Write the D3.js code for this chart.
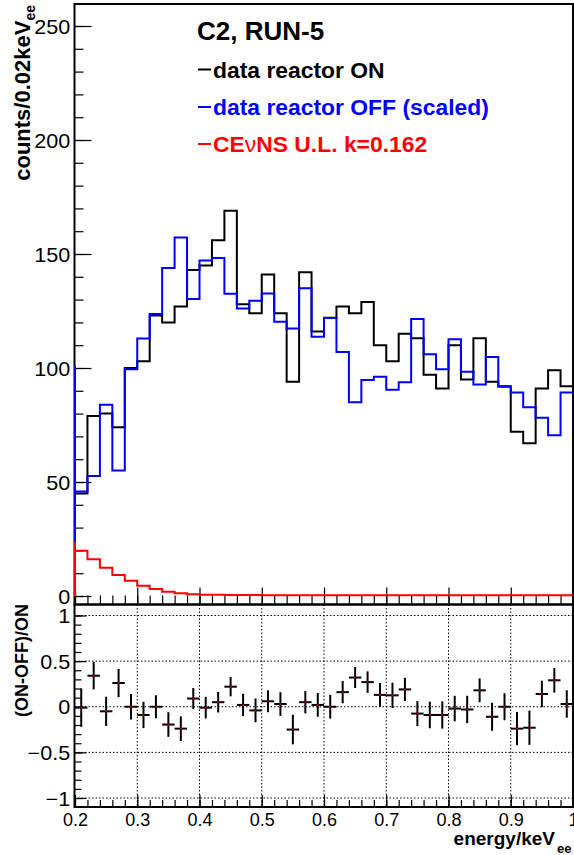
<!DOCTYPE html>
<html>
<head>
<meta charset="utf-8">
<script src="https://cdn.jsdelivr.net/npm/d3@7"></script>
<style>
  body { margin: 0; background: #fff; }
  svg { display: block; }
  text { font-family: "Liberation Sans", Arial, Helvetica, sans-serif; }
</style>
</head>
<body>
<div id="chart"></div>
<script>
// ---- data ----
var binLow = [0.20, 0.22, 0.24, 0.26, 0.28, 0.30, 0.32, 0.34, 0.36, 0.38,
              0.40, 0.42, 0.44, 0.46, 0.48, 0.50, 0.52, 0.54, 0.56, 0.58,
              0.60, 0.62, 0.64, 0.66, 0.68, 0.70, 0.72, 0.74, 0.76, 0.78,
              0.80, 0.82, 0.84, 0.86, 0.88, 0.90, 0.92, 0.94, 0.96, 0.98];
var binWidth = 0.02;

var onCounts = [45, 79, 80, 74, 100, 103, 123, 120, 127, 143,
                145, 156, 169, 128, 124, 141, 124, 94, 142, 116,
                122, 127, 124, 129, 110, 103, 115, 113, 97, 91,
                110, 95, 113, 94, 92, 72, 67, 91, 99, 92];

var offScaled = [45.8, 52.6, 83.9, 55.0, 99.5, 112.9, 123.7, 143.9, 157.2, 130.3,
                 147.2, 148.2, 132.6, 126.1, 129.5, 132.7, 120.3, 117.3, 135.0, 113.7,
                 121.9, 107.0, 85.0, 94.7, 96.2, 90.5, 93.8, 121.5, 106.0, 99.4,
                 112.6, 98.4, 92.8, 104.8, 91.8, 89.3, 82.8, 78.2, 70.5, 89.3];

var cevnsUL = [19.9, 16.1, 12.4, 9.2, 6.7, 4.5, 3.1, 1.9, 1.2, 0.8,
               0.6, 0.5, 0.4, 0.4, 0.4, 0.3, 0.3, 0.3, 0.3, 0.3,
               0.3, 0.3, 0.3, 0.3, 0.3, 0.3, 0.3, 0.3, 0.3, 0.3,
               0.3, 0.3, 0.3, 0.3, 0.3, 0.3, 0.3, 0.3, 0.3, 0.3];

// content of the bin just below 0.2 (only its edge shows)
var edgeOn = 45, edgeOff = 101, edgeCevns = 23.8;

var ratio = [-0.01, 0.34, -0.05, 0.26, 0.00, -0.09, 0.00, -0.195, -0.24, 0.09,
             -0.01, 0.05, 0.22, 0.02, -0.04, 0.06, 0.03, -0.25, 0.05, 0.02,
             0.00, 0.16, 0.32, 0.27, 0.13, 0.125, 0.19, -0.075, -0.09, -0.09,
             -0.02, -0.03, 0.18, -0.11, 0.00, -0.24, -0.23, 0.14, 0.29, 0.03];

var ratioErr = [0.21, 0.15, 0.16, 0.155, 0.14, 0.144, 0.126, 0.135, 0.135, 0.115,
                0.118, 0.113, 0.106, 0.122, 0.13, 0.12, 0.13, 0.162, 0.122, 0.13,
                0.13, 0.122, 0.115, 0.118, 0.13, 0.138, 0.127, 0.137, 0.146, 0.15,
                0.14, 0.15, 0.13, 0.153, 0.148, 0.182, 0.188, 0.146, 0.135, 0.15];

var xMajor = [0.2, 0.3, 0.4, 0.5, 0.6, 0.7, 0.8, 0.9, 1.0];
var xGrid = [0.3, 0.4, 0.5, 0.6, 0.7, 0.8, 0.9];
var yTopMajor = [0, 50, 100, 150, 200, 250];
var yBotMajor = [-1, -0.5, 0, 0.5, 1];

// ---- layout ----
var svgWidth = 574, svgHeight = 855;
var frameL = 74.5, frameR = 573;
var topY0 = 4, midY = 604.5, botY1 = 807;

var svg = d3.select("#chart").append("svg")
  .attr("width", svgWidth)
  .attr("height", svgHeight);

var x = d3.scaleLinear().domain([0.2, 1.0]).range([75, 573]);
var yTop = d3.scaleLinear().domain([0, 250]).range([596, 26]);
var yBot = d3.scaleLinear().domain([-1, 1]).range([798, 615.5]);

var minorX = d3.range(0, 41).map(function(i) { return 0.2 + i * 0.02; });
var minorYTop = d3.range(0, 26).map(function(i) { return i * 10; });
var minorYBot = d3.range(-10, 11).map(function(i) { return i / 10; });

function cleanAxis(g) {
  g.select(".domain").remove();
  g.selectAll("line").attr("stroke", "#000").attr("stroke-width", 1.2);
}

// ================= top panel =================
var topPanel = svg.append("g");

// left axis
topPanel.append("g")
  .attr("transform", "translate(" + frameL + ",0)")
  .call(d3.axisLeft(yTop).tickValues(minorYTop).tickFormat("").tickSize(-9))
  .call(cleanAxis);
var yTopAxis = topPanel.append("g")
  .attr("transform", "translate(" + frameL + ",0)")
  .call(d3.axisLeft(yTop).tickValues(yTopMajor).tickFormat(d3.format("d")).tickSize(-17).tickPadding(4))
  .call(cleanAxis);
yTopAxis.selectAll("text")
  .attr("font-size", 20).attr("fill", "#000").attr("dy", "0.36em")
  .attr("transform", "scale(1.08,1)");

// bottom ticks of top panel
topPanel.append("g")
  .attr("transform", "translate(0," + midY + ")")
  .call(d3.axisBottom(x).tickValues(minorX).tickFormat("").tickSize(-9))
  .call(cleanAxis);
topPanel.append("g")
  .attr("transform", "translate(0," + midY + ")")
  .call(d3.axisBottom(x).tickValues(xMajor).tickFormat("").tickSize(-17))
  .call(cleanAxis);

topPanel.append("rect")
  .attr("x", frameL).attr("y", topY0)
  .attr("width", frameR - frameL).attr("height", midY - topY0)
  .attr("fill", "none").attr("stroke", "#000").attr("stroke-width", 2);

// histograms (drawn over the frame, as in the original)
function histPath(values, edge) {
  var pts = [[0.2, 0], [0.2, edge]];
  values.forEach(function(v, i) {
    pts.push([binLow[i], v]);
    pts.push([binLow[i] + binWidth, v]);
  });
  var line = d3.line()
    .x(function(d) { return x(d[0]); })
    .y(function(d) { return yTop(d[1]); });
  return line(pts);
}

topPanel.append("path")
  .attr("d", histPath(onCounts, edgeOn))
  .attr("fill", "none").attr("stroke", "#000").attr("stroke-width", 2);
topPanel.append("path")
  .attr("d", histPath(offScaled, edgeOff))
  .attr("fill", "none").attr("stroke", "#0000ff").attr("stroke-width", 2);
topPanel.append("path")
  .attr("d", histPath(cevnsUL, edgeCevns))
  .attr("fill", "none").attr("stroke", "#ff0000").attr("stroke-width", 2);

// y title
topPanel.append("text")
  .attr("transform", "translate(30,5) rotate(-90)")
  .attr("text-anchor", "end")
  .attr("font-size", 22).attr("font-weight", "bold")
  .text("counts/0.02keV")
  .append("tspan").attr("font-size", 14).attr("dy", 5).text("ee");

// legend
var legend = topPanel.append("g");
legend.append("text")
  .attr("x", 197).attr("y", 40)
  .attr("font-size", 26).attr("font-weight", "bold")
  .text("C2, RUN-5");

var legendItems = [
  { label: "data reactor ON", color: "#000", y: 77.5 },
  { label: "data reactor OFF (scaled)", color: "#0000ff", y: 115 },
  { label: null, color: "#ff0000", y: 152 }
];
legendItems.forEach(function(it) {
  legend.append("line")
    .attr("x1", 198).attr("x2", 211)
    .attr("y1", it.y - 8).attr("y2", it.y - 8)
    .attr("stroke", it.color).attr("stroke-width", 2);
  var t = legend.append("text")
    .attr("transform", "translate(213," + it.y + ") scale(1.04,1)")
    .attr("font-size", 22).attr("font-weight", "bold")
    .attr("fill", it.color);
  if (it.label) {
    t.text(it.label);
  } else {
    t.append("tspan").text("CE");
    t.append("tspan").attr("font-weight", "normal").text("ν");
    t.append("tspan").text("NS U.L. k=0.162");
  }
});

// ================= bottom panel =================
var botPanel = svg.append("g");

// dotted grid
botPanel.selectAll(".vgrid").data(xGrid).enter().append("line")
  .attr("x1", function(d) { return x(d); }).attr("x2", function(d) { return x(d); })
  .attr("y1", midY).attr("y2", botY1)
  .attr("stroke", "#000").attr("stroke-width", 1).attr("stroke-dasharray", "1.5,2");
botPanel.selectAll(".hgrid").data(yBotMajor).enter().append("line")
  .attr("x1", frameL).attr("x2", frameR)
  .attr("y1", function(d) { return yBot(d); }).attr("y2", function(d) { return yBot(d); })
  .attr("stroke", "#000").attr("stroke-width", 1).attr("stroke-dasharray", "1.5,2");

// axes
botPanel.append("g")
  .attr("transform", "translate(" + frameL + ",0)")
  .call(d3.axisLeft(yBot).tickValues(minorYBot).tickFormat("").tickSize(-7))
  .call(cleanAxis);
var yBotAxis = botPanel.append("g")
  .attr("transform", "translate(" + frameL + ",0)")
  .call(d3.axisLeft(yBot).tickValues(yBotMajor).tickSize(-12).tickPadding(4)
    .tickFormat(function(d) { return d3.format("")(d); }))
  .call(cleanAxis);
yBotAxis.selectAll("text")
  .attr("font-size", 20).attr("fill", "#000").attr("dy", "0.36em")
  .attr("transform", "scale(1.08,1)");

botPanel.append("g")
  .attr("transform", "translate(0," + botY1 + ")")
  .call(d3.axisBottom(x).tickValues(minorX).tickFormat("").tickSize(-7))
  .call(cleanAxis);
var xBotAxis = botPanel.append("g")
  .attr("transform", "translate(0," + botY1 + ")")
  .call(d3.axisBottom(x).tickValues(xMajor).tickSize(-12).tickPadding(6)
    .tickFormat(function(d) { return d === 1 ? "1" : d.toFixed(1); }))
  .call(cleanAxis);
xBotAxis.selectAll("text").attr("font-size", 18).attr("fill", "#000");

// ratio points with error bars
var pts = botPanel.selectAll(".pt").data(ratio).enter().append("g");
pts.append("line")
  .attr("x1", function(d, i) { return x(binLow[i] + binWidth / 2); })
  .attr("x2", function(d, i) { return x(binLow[i] + binWidth / 2); })
  .attr("y1", function(d, i) { return yBot(d - ratioErr[i]); })
  .attr("y2", function(d, i) { return yBot(d + ratioErr[i]); })
  .attr("stroke", "#000").attr("stroke-width", 2);
pts.append("line")
  .attr("x1", function(d, i) { return x(binLow[i]); })
  .attr("x2", function(d, i) { return x(binLow[i] + binWidth); })
  .attr("y1", function(d) { return yBot(d); })
  .attr("y2", function(d) { return yBot(d); })
  .attr("stroke", "#000").attr("stroke-width", 2);
pts.append("circle")
  .attr("cx", function(d, i) { return x(binLow[i] + binWidth / 2); })
  .attr("cy", function(d) { return yBot(d); })
  .attr("r", 1).attr("fill", "#cc0000");

botPanel.append("rect")
  .attr("x", frameL).attr("y", midY)
  .attr("width", frameR - frameL).attr("height", botY1 - midY)
  .attr("fill", "none").attr("stroke", "#000").attr("stroke-width", 2);

// titles
botPanel.append("text")
  .attr("transform", "translate(28,604) rotate(-90)")
  .attr("text-anchor", "end")
  .attr("font-size", 18).attr("font-weight", "bold")
  .text("(ON-OFF)/ON");

botPanel.append("text")
  .attr("x", 555).attr("y", 845)
  .attr("text-anchor", "end")
  .attr("font-size", 19).attr("font-weight", "bold")
  .text("energy/keV");
botPanel.append("text")
  .attr("x", 557).attr("y", 853)
  .attr("font-size", 13).attr("font-weight", "bold")
  .text("ee");
</script>
</body>
</html>
